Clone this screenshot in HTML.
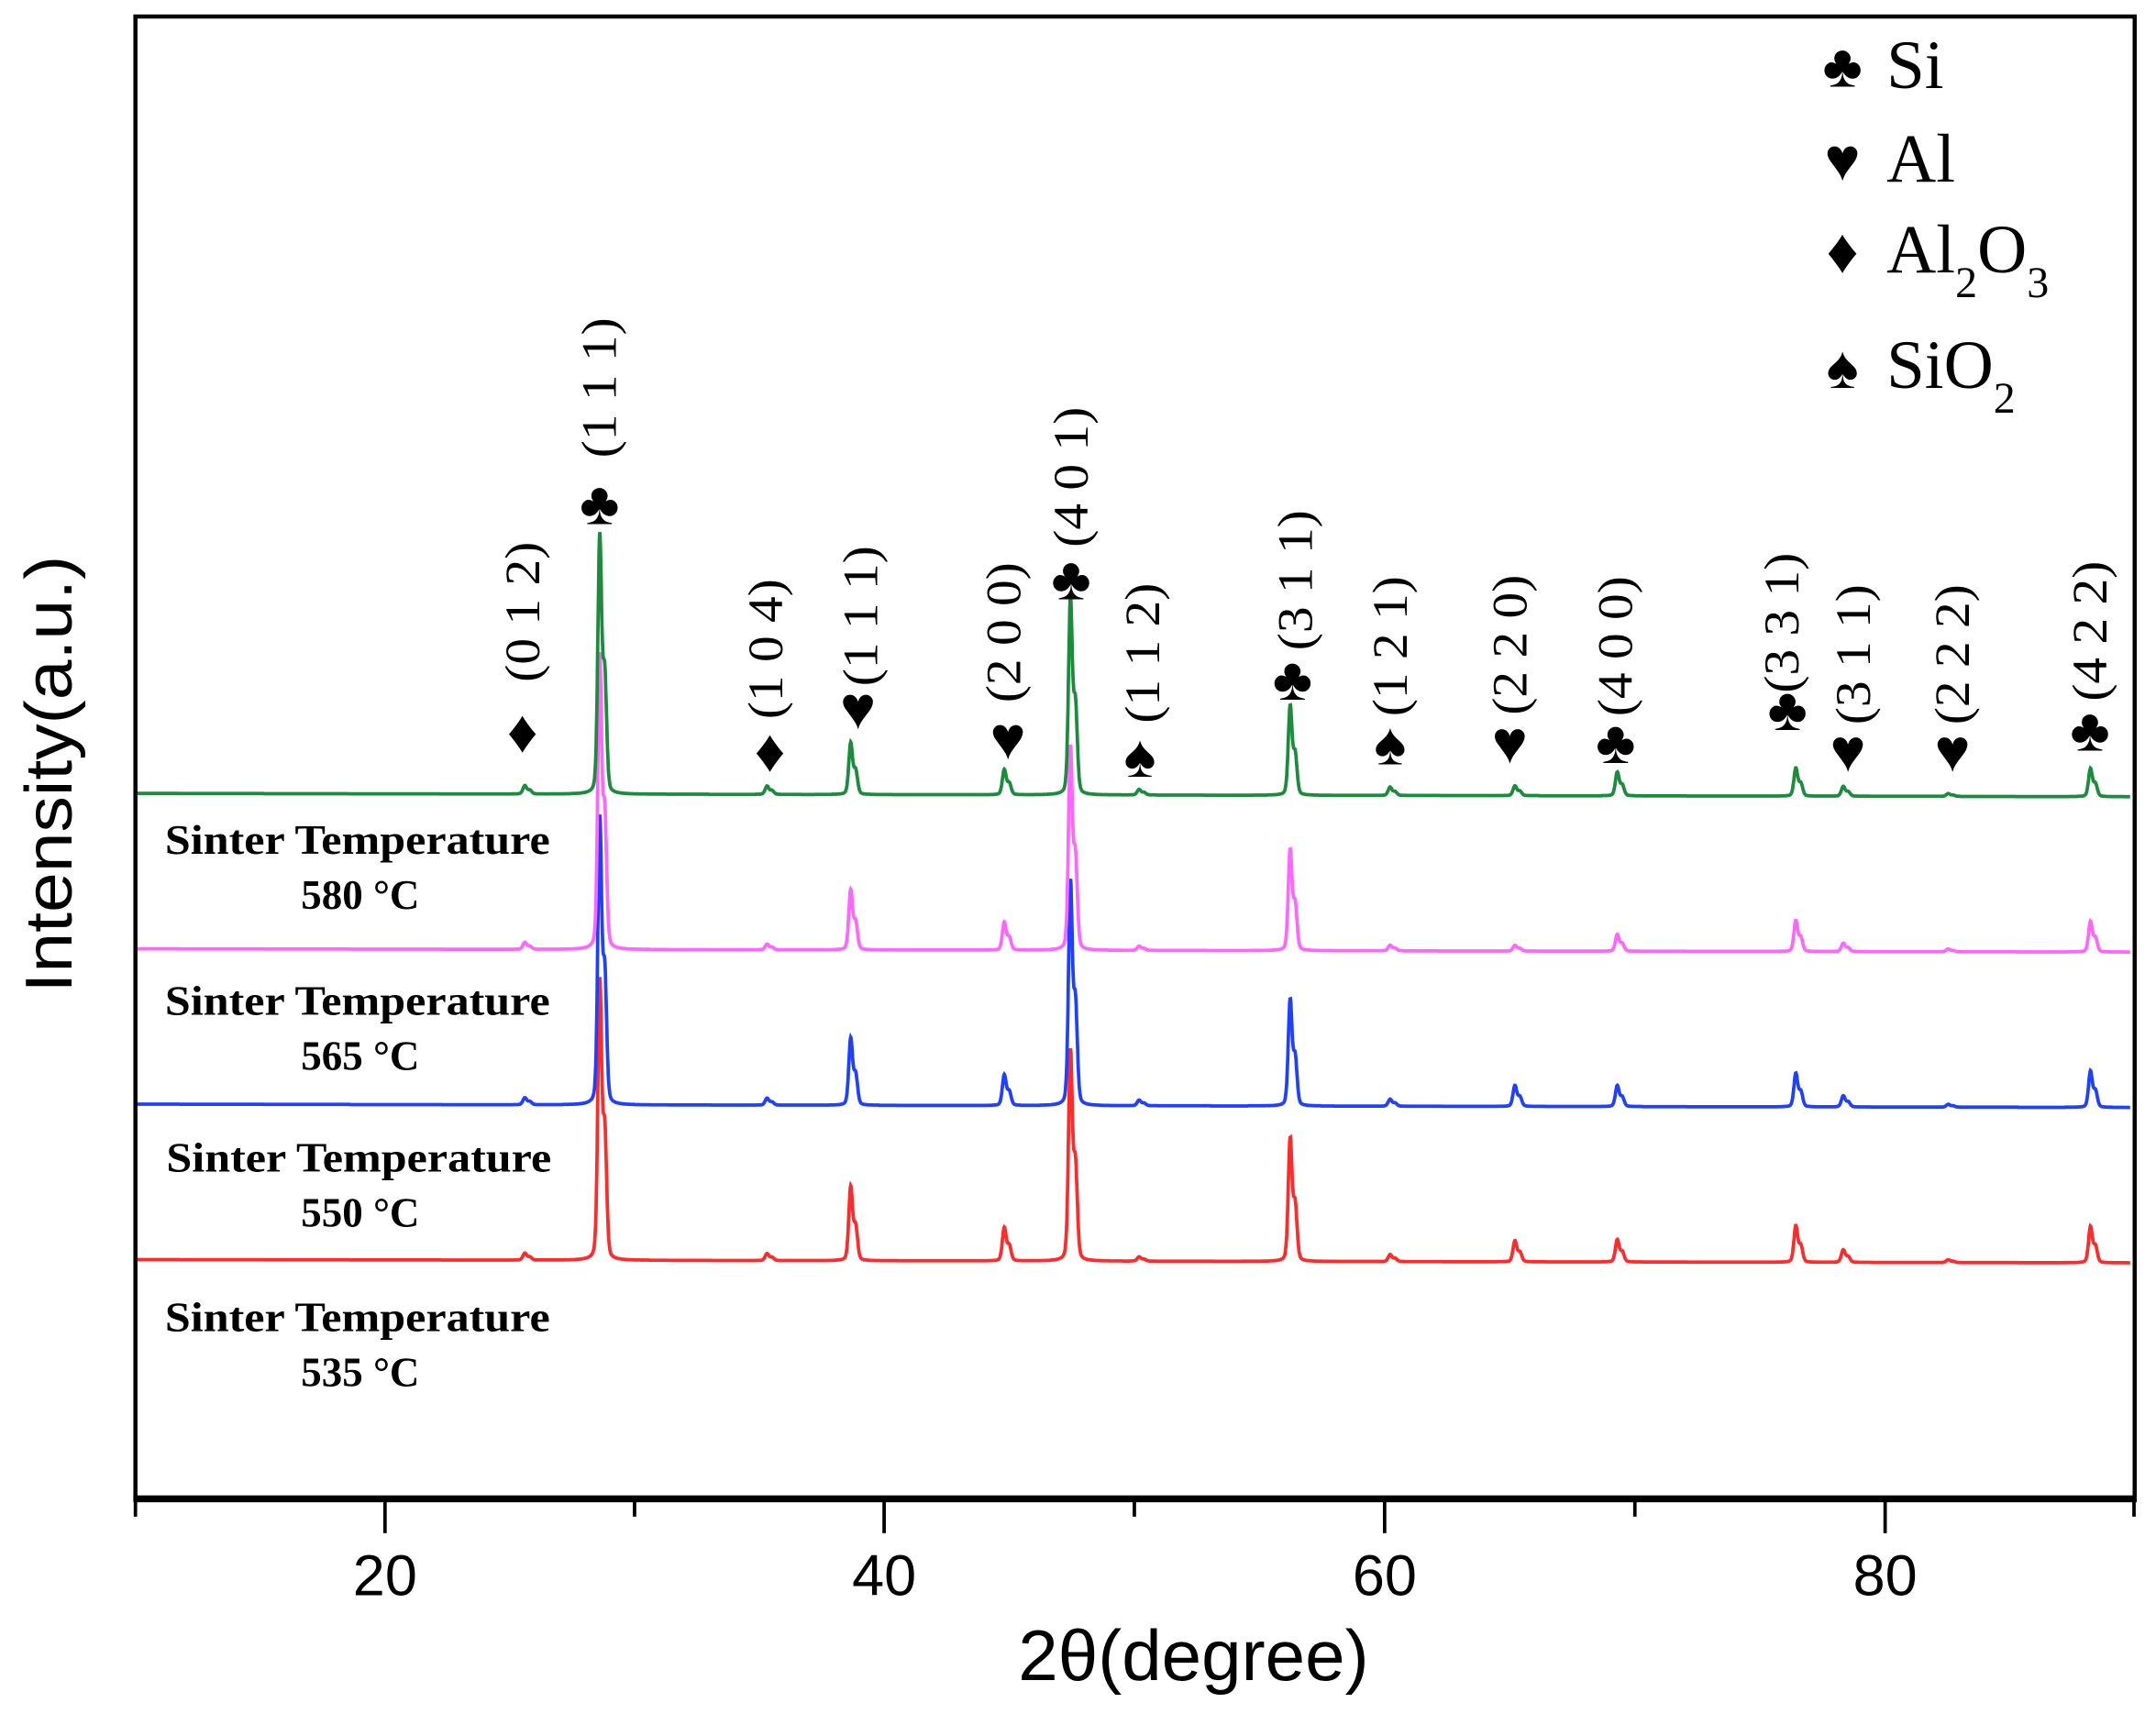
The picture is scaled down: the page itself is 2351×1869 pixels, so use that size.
<!DOCTYPE html>
<html><head><meta charset="utf-8"><style>html,body{margin:0;padding:0;background:#fff}svg{display:block}</style></head>
<body>
<svg id="s" xmlns="http://www.w3.org/2000/svg" width="2351" height="1869" viewBox="0 0 1568 1246.5">
<rect x="0" y="0" width="1568" height="1246.5" fill="#fff"/>
<g id="data"></g>
<rect x="98.5" y="12" width="1454" height="1078" fill="none" stroke="#000" stroke-width="3"/>
<line x1="97" y1="1090" x2="1554" y2="1090" stroke="#000" stroke-width="5"/>
<g stroke="#000" stroke-width="2.5">
<line x1="98.5" y1="1090" x2="98.5" y2="1103"/>
<line x1="280" y1="1090" x2="280" y2="1115"/>
<line x1="461.5" y1="1090" x2="461.5" y2="1103"/>
<line x1="643" y1="1090" x2="643" y2="1115"/>
<line x1="825" y1="1090" x2="825" y2="1103"/>
<line x1="1007" y1="1090" x2="1007" y2="1115"/>
<line x1="1189" y1="1090" x2="1189" y2="1103"/>
<line x1="1371" y1="1090" x2="1371" y2="1115"/>
<line x1="1552" y1="1090" x2="1552" y2="1103"/>
</g>
<g font-family="Liberation Sans, sans-serif" font-size="42" text-anchor="middle" fill="#000">
<text x="280" y="1160">20</text><text x="643" y="1160">40</text><text x="1007" y="1160">60</text><text x="1371" y="1160">80</text>
</g>
<text x="868" y="1222" font-family="Liberation Sans, sans-serif" font-size="52" text-anchor="middle" textLength="255" lengthAdjust="spacingAndGlyphs">2θ(degree)</text>
<text transform="translate(52,563) rotate(-90)" font-family="Liberation Sans, sans-serif" font-size="48" text-anchor="middle" textLength="318" lengthAdjust="spacingAndGlyphs">Intensity(a.u.)</text>
<g font-family="Liberation Serif, serif" font-size="30" font-weight="bold" text-anchor="middle">
<text x="260" y="621" textLength="280" lengthAdjust="spacingAndGlyphs">Sinter Temperature</text><text x="262" y="661">580 °C</text>
<text x="260" y="738" textLength="280" lengthAdjust="spacingAndGlyphs">Sinter Temperature</text><text x="262" y="778">565 °C</text>
<text x="261" y="852" textLength="280" lengthAdjust="spacingAndGlyphs">Sinter Temperature</text><text x="262" y="892">550 °C</text>
<text x="260" y="968" textLength="280" lengthAdjust="spacingAndGlyphs">Sinter Temperature</text><text x="262" y="1008">535 °C</text>
</g>
<g font-family="Liberation Serif, serif" font-size="50" fill="#000">
<text x="1340" y="63" font-size="44" text-anchor="middle">♣</text><text x="1372" y="64">Si</text>
<text x="1340" y="131" font-size="44" text-anchor="middle">♥</text><text x="1372" y="132">Al</text>
<text x="1340" y="198" font-size="46" text-anchor="middle">♦</text><text x="1372" y="198">Al<tspan font-size="32" dy="18">2</tspan><tspan dy="-18">O</tspan><tspan font-size="32" dy="18">3</tspan></text>
<text x="1340" y="282" font-size="44" text-anchor="middle">♠</text><text x="1372" y="282">SiO<tspan font-size="32" dy="18">2</tspan></text>
</g>
<g id="ann" font-family="Liberation Serif, serif"></g>
</svg>
<script>
var NS="http://www.w3.org/2000/svg";
function X(d){return 280+(d-20)*18.16;}
var pk=[25.6,28.6,35.3,38.65,44.8,47.45,50.2,56.25,60.25,65.25,69.35,76.5,78.4,82.6,88.3];
var S=[
 {c:"#ff2a2a",b:916,h:[5,200,5,53,24,150,3,88,5,15,16,26,9,2,26]},
 {c:"#2040ff",b:803,h:[5,205,5,48,22,160,4,76,5,15,15,24,8,2,26]},
 {c:"#ff66ff",b:690,h:[5,210,4,43,20,145,3,72,4,4,12,22,6,2,22]},
 {c:"#1a8c3c",b:577,h:[6,185,6,37,18,140,4,64,6,7,17,20,7,2,20]}];
function prof(u){return 0.75*Math.exp(-u*u*0.693)+0.25/(1+u*u);}
var g=document.getElementById("data");
S.forEach(function(s){
 var pts=[];
 for(var d=10;d<=89.9;d+=0.015){
  var y=0;
  for(var i=0;i<pk.length;i++){
   var w=0.09;
   y+=s.h[i]*prof((d-pk[i])/w)+0.45*s.h[i]*prof((d-pk[i]-0.2)/w);
  }
  pts.push(X(d).toFixed(1)+","+(s.b+(d-10)*0.03-y).toFixed(1));
 }
 var p=document.createElementNS(NS,"polyline");
 p.setAttribute("points",pts.join(" "));p.setAttribute("fill","none");
 p.setAttribute("stroke",s.c);p.setAttribute("stroke-width","2.5");
 g.appendChild(p);
});
var A=[["♦",380,532,"(0 1 2)",380,445],["♣",436,366,"(1 1 1)",436,282],["♦",560,546,"(1 0 4)",557,472],
["♥",624,515,"(1 1 1)",626,448],["♥",733,537,"(2 0 0)",730,460],["♣",779,421,"(4 0 1)",779,347],
["♠",829,550,"(1 1 2)",831,475],["♣",940,494,"(3 1 1)",942,422],["♠",1011,541,"(1 2 1)",1011,470],
["♥",1098,540,"(2 2 0)",1098,469],["♣",1175,540,"(4 0 0)",1175,470],["♣",1300,516,"(3 3 1)",1296,453],
["♥",1344,546,"(3 1 1)",1348,476],["♥",1420,546,"(2 2 2)",1420,476],["♣",1520,531,"(4 2 2)",1520,459]];
var an=document.getElementById("ann");
A.forEach(function(a){
 var t=document.createElementNS(NS,"text");
 t.setAttribute("x",a[1]);t.setAttribute("y",a[2]+15);t.setAttribute("font-size","44");
 t.setAttribute("text-anchor","middle");t.textContent=a[0];an.appendChild(t);
 var t2=document.createElementNS(NS,"text");
 t2.setAttribute("transform","translate("+(a[4]+12)+","+a[5]+") rotate(-90)");
 t2.setAttribute("font-size","36");t2.setAttribute("text-anchor","middle");
 t2.setAttribute("textLength","102");t2.setAttribute("lengthAdjust","spacingAndGlyphs");
 t2.textContent=a[3];an.appendChild(t2);
});
</script>
</body></html>
